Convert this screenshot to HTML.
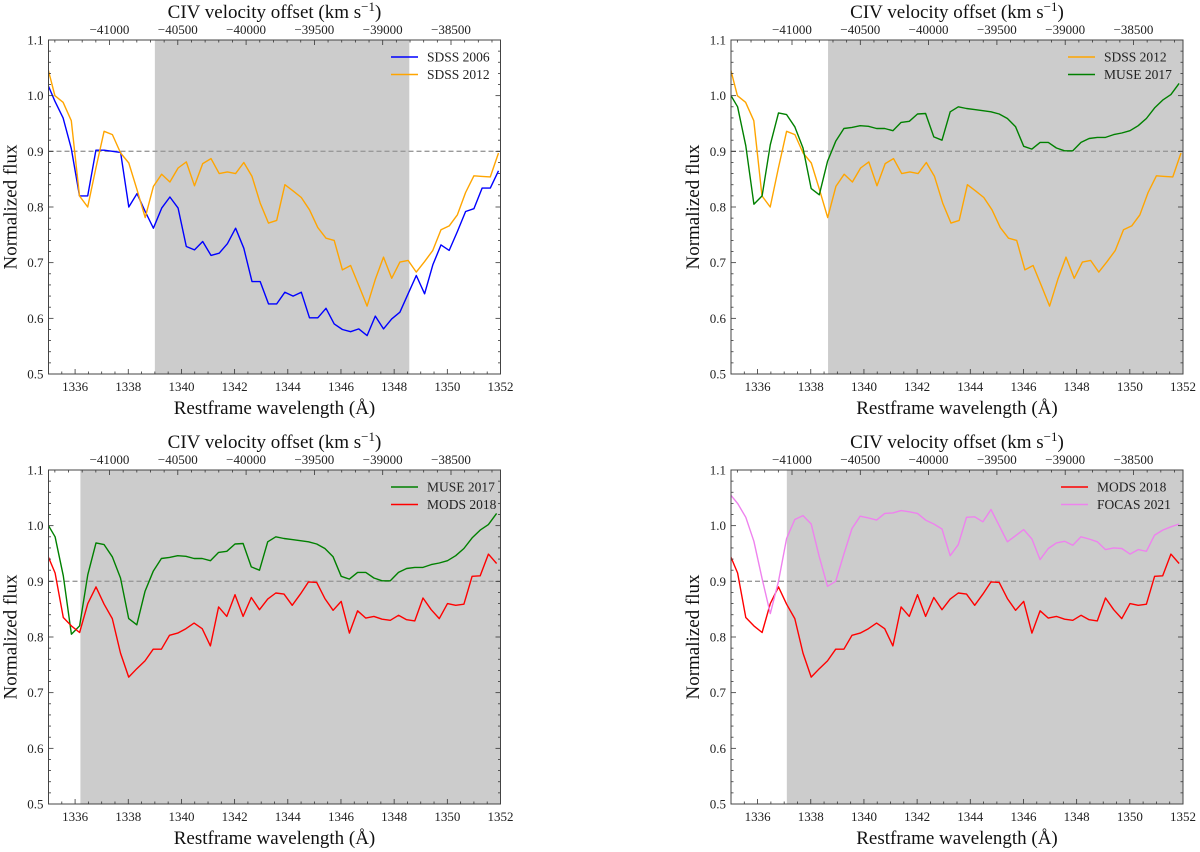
<!DOCTYPE html>
<html><head><meta charset="utf-8"><style>
html,body{margin:0;padding:0;background:#fff}
svg{display:block;font-family:"Liberation Serif","DejaVu Serif",serif}
</style></head><body>
<svg id="fig" xmlns="http://www.w3.org/2000/svg" width="1200" height="852" viewBox="0 0 1200 852"></svg>
<script>
// wavelength grids (start, step in Å)
const sdssStart = 1334.93, sdssStep = 0.309;
const instStart = 1334.94, instStep = 0.3075;
const sdss2006 = [1.025,0.99,0.96,0.905,0.82,0.82,0.902,0.902,0.90,0.898,0.80,0.824,0.792,0.762,0.798,0.818,0.798,0.729,0.723,0.738,0.713,0.717,0.734,0.762,0.726,0.666,0.666,0.626,0.626,0.647,0.64,0.647,0.601,0.601,0.618,0.59,0.58,0.576,0.581,0.569,0.604,0.581,0.599,0.611,0.644,0.677,0.644,0.696,0.732,0.722,0.756,0.792,0.797,0.834,0.834,0.865];
const sdss2012 = [1.058,1.0,0.988,0.955,0.82,0.80,0.87,0.936,0.93,0.897,0.879,0.831,0.781,0.837,0.859,0.845,0.87,0.881,0.838,0.878,0.887,0.86,0.863,0.86,0.88,0.855,0.807,0.771,0.776,0.84,0.829,0.817,0.795,0.763,0.744,0.74,0.687,0.695,0.659,0.622,0.67,0.71,0.672,0.701,0.704,0.683,0.702,0.722,0.759,0.766,0.786,0.826,0.856,0.855,0.854,0.897];
const muse2017 = [1.005,0.98,0.91,0.805,0.82,0.912,0.969,0.966,0.944,0.906,0.833,0.822,0.882,0.918,0.941,0.943,0.946,0.945,0.941,0.941,0.937,0.952,0.954,0.967,0.968,0.926,0.92,0.971,0.98,0.977,0.975,0.973,0.971,0.967,0.959,0.944,0.909,0.904,0.916,0.916,0.906,0.901,0.901,0.916,0.923,0.925,0.925,0.93,0.933,0.937,0.946,0.959,0.978,0.992,1.002,1.022];
const mods2018 = [0.95,0.915,0.835,0.82,0.808,0.86,0.89,0.859,0.833,0.771,0.728,0.743,0.757,0.778,0.778,0.803,0.807,0.815,0.825,0.815,0.784,0.854,0.837,0.876,0.837,0.871,0.849,0.868,0.879,0.877,0.857,0.877,0.899,0.898,0.869,0.848,0.864,0.807,0.847,0.834,0.837,0.832,0.83,0.839,0.831,0.829,0.87,0.849,0.833,0.86,0.857,0.859,0.909,0.91,0.949,0.932];
const focas2021 = [1.058,1.04,1.015,0.972,0.905,0.842,0.9,0.977,1.011,1.018,1.003,0.944,0.891,0.9,0.949,0.995,1.017,1.014,1.01,1.022,1.023,1.027,1.025,1.022,1.01,1.003,0.994,0.946,0.966,1.015,1.016,1.007,1.029,1.0,0.971,0.982,0.993,0.976,0.939,0.959,0.969,0.972,0.965,0.98,0.976,0.971,0.957,0.96,0.959,0.949,0.957,0.954,0.983,0.992,0.998,1.003];
const xTicks = [1336,1338,1340,1342,1344,1346,1348,1350,1352];
const yTicks = [0.5,0.6,0.7,0.8,0.9,1.0,1.1];
const vTicks = [-41000,-40500,-40000,-39500,-39000,-38500];
const shade1 = [1339.0,1348.57], shade2 = [1338.65,1352], shade3 = [1336.2,1352], shade4 = [1337.1,1352];

const NS = "http://www.w3.org/2000/svg";
const svg = document.getElementById('fig');
function mk(tag, attrs, parent){const e=document.createElementNS(NS,tag);for(const k in attrs)e.setAttribute(k,attrs[k]);(parent||svg).appendChild(e);return e;}

const panels = [
 {L:48.5,T:40,shade:shade1,name:'panel-sdss2006-sdss2012',series:[['SDSS 2006',sdss2006,'#0000ff',sdssStart,sdssStep],['SDSS 2012',sdss2012,'#ffa500',sdssStart,sdssStep]],leg:391},
 {L:731,T:40,shade:shade2,name:'panel-sdss2012-muse2017',series:[['SDSS 2012',sdss2012,'#ffa500',sdssStart,sdssStep],['MUSE 2017',muse2017,'#008000',instStart,instStep]],leg:1068},
 {L:48.5,T:470,shade:shade3,name:'panel-muse2017-mods2018',series:[['MUSE 2017',muse2017,'#008000',instStart,instStep],['MODS 2018',mods2018,'#ff0000',instStart,instStep]],leg:391},
 {L:731,T:470,shade:shade4,name:'panel-mods2018-focas2021',series:[['MODS 2018',mods2018,'#ff0000',instStart,instStep],['FOCAS 2021',focas2021,'#ee82ee',instStart,instStep]],leg:1061}
];
const W=452, H=334;
panels.forEach(p=>{
  const g=mk('g',{});
  
  
  const xs=l=>p.L+(l-1335)/17*W;
  const ys=v=>p.T+(1.1-v)/0.6*H;
  const vs=v=>p.L+61+(v+41000)*0.1366;
  const clipId='c'+p.name;
  const cp=mk('clipPath',{id:clipId},g); mk('rect',{x:p.L,y:p.T,width:W,height:H},cp);
  const sh=mk('rect',{x:xs(p.shade[0]),y:p.T,width:xs(p.shade[1])-xs(p.shade[0]),height:H,fill:'#cccccc'},g);
  
  
  const dl=mk('line',{x1:p.L,x2:p.L+W,y1:ys(0.9),y2:ys(0.9),stroke:'#999',"stroke-width":1.3,"stroke-dasharray":"5,3"},g);
  
  
  const sg=mk('g',{"clip-path":`url(#${clipId})`},g);
  p.series.forEach(s=>{
    const pts=s[1].map((v,i)=>xs(s[3]+i*s[4]).toFixed(1)+','+ys(v).toFixed(1)).join(' ');
    const pl=mk('polyline',{points:pts,fill:'none',stroke:s[2],"stroke-width":1.4,"stroke-linejoin":"round"},sg);
    
    
  });
  // ticks
  const tk={stroke:'#333',"stroke-width":0.8};
  for(let l=1335;l<=1352.001;l+=0.5){const maj=Math.abs(l-Math.round(l/2)*2)<0.01;const len=maj?5:2.5;mk('line',Object.assign({x1:xs(l),x2:xs(l),y1:p.T+H,y2:p.T+H-len},tk),g);}
  for(let v=0.5;v<=1.1001;v+=0.02){const maj=Math.abs(v*10-Math.round(v*10))<0.01;const len=maj?5:2.5;mk('line',Object.assign({x1:p.L,x2:p.L+len,y1:ys(v),y2:ys(v)},tk),g);mk('line',Object.assign({x1:p.L+W,x2:p.L+W-len,y1:ys(v),y2:ys(v)},tk),g);}
  for(let v=-41400;v<=-38100;v+=100){const x=vs(v);if(x<p.L||x>p.L+W)continue;const maj=v%500===0;mk('line',Object.assign({x1:x,x2:x,y1:p.T,y2:p.T+(maj?5:2.5)},tk),g);}
  mk('rect',{x:p.L,y:p.T,width:W,height:H,fill:'none',stroke:'#444',"stroke-width":1},g);
  xTicks.forEach(l=>{const t=mk('text',{x:xs(l),y:p.T+H+17,"font-size":13,"text-anchor":"middle",fill:'#222'},g);t.textContent=l;});
  yTicks.forEach(v=>{const t=mk('text',{x:p.L-5,y:ys(v)+4.5,"font-size":13,"text-anchor":"end",fill:'#222'},g);t.textContent=v.toFixed(1);});
  vTicks.forEach(v=>{const t=mk('text',{x:vs(v),y:p.T-6,"font-size":13,"text-anchor":"middle",fill:'#222'},g);t.textContent='\u2212'+Math.abs(v);});
  const tt=mk('text',{x:p.L+W/2,y:p.T-22,"font-size":19,"text-anchor":"middle",fill:'#111'},g);
  tt.innerHTML='CIV velocity offset (km s<tspan dy="-7" font-size="13">\u22121</tspan><tspan dy="7">)</tspan>';
  
  
  const xt=mk('text',{x:p.L+W/2,y:p.T+H+40,"font-size":19,"text-anchor":"middle",fill:'#111'},g);
  xt.textContent='Restframe wavelength (\u00c5)';
  
  
  const yt=mk('text',{x:0,y:0,"font-size":19,"text-anchor":"middle",fill:'#111',transform:`translate(${p.L-32},${p.T+H/2}) rotate(-90)`},g);
  yt.textContent='Normalized flux';
  
  
  p.series.forEach((s,i)=>{
    const lg=mk('g',{},g);
    
    
    const y=p.T+17+i*17.5;
    mk('line',{x1:p.leg,x2:p.leg+27,y1:y,y2:y,stroke:s[2],"stroke-width":1.4},lg);
    const t=mk('text',{x:p.leg+36,y:y+4.5,"font-size":13.5,fill:'#222'},lg);t.textContent=s[0];
  });
});
</script>
</body></html>
